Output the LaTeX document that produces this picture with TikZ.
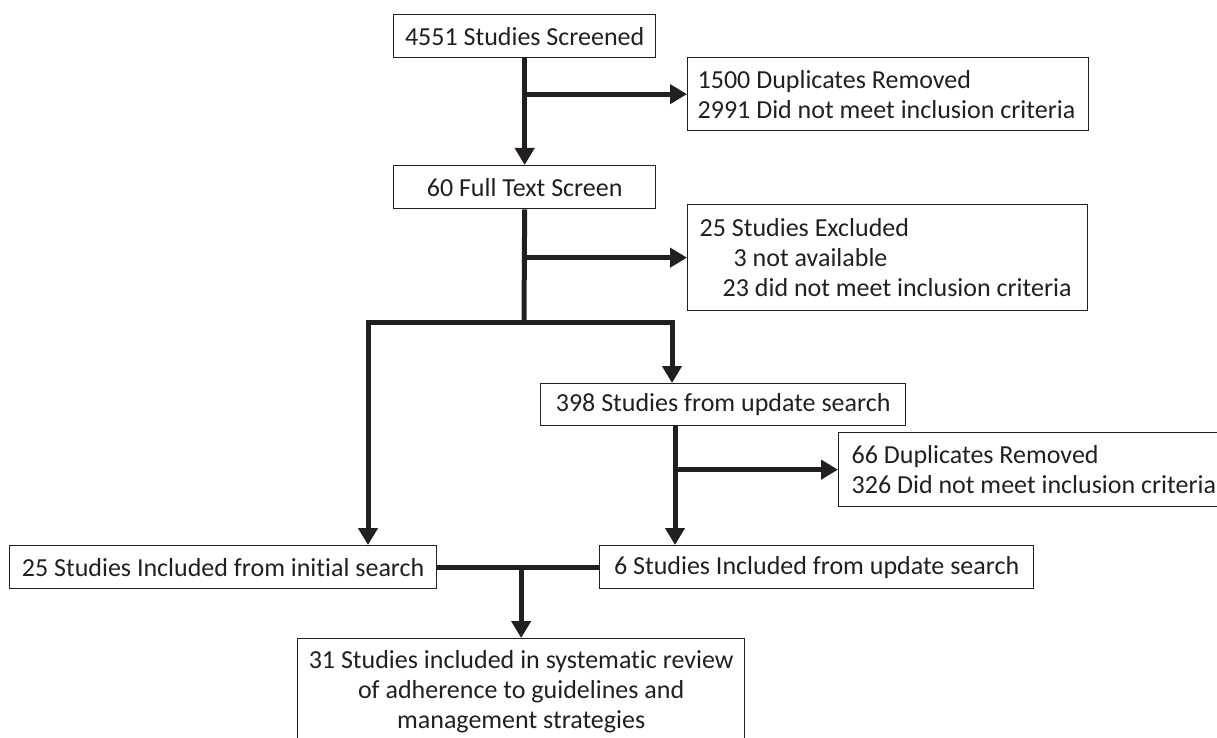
\documentclass[tikz,border=0pt]{standalone}
\usepackage{fontspec}
\setmainfont{Carlito}[Ligatures=NoCommon]
\usetikzlibrary{arrows.meta}
\definecolor{inkblack}{HTML}{231F20}

\begin{document}
\begin{tikzpicture}[x=1pt, y=-1pt,
    box/.style={draw=inkblack, line width=1.3pt, anchor=north west, inner sep=0pt, align=center, text=inkblack},
    listbox/.style={box, align=flush left, inner xsep=11pt},
    flow/.style={draw=inkblack, line width=5pt},
    arr/.style={flow, -{Triangle[length=17pt, width=19pt]}}]
    \useasboundingbox (0,0) rectangle (1217,738);
    \clip (0,0) rectangle (1217,738);
    \fontsize{26}{30}\selectfont

    % screening
    \node[box, minimum width=262pt, minimum height=43pt] (screen) at (393,14) {4551 Studies Screened};
    \node[listbox, inner xsep=10pt, text width=381pt, minimum height=73pt] (dup) at (687,57) {1500 Duplicates Removed\\2991 Did not meet inclusion criteria};
    \node[box, minimum width=262pt, minimum height=43pt] (full) at (393,165) {60 Full Text Screen};
    \node[listbox, inner xsep=12pt, text width=376pt, minimum height=106pt] (excl) at (687,204) {25 Studies Excluded\\\hspace*{34pt}3 not available\\\hspace*{23pt}23 did not meet inclusion criteria};

    % update search
    \node[box, minimum width=365pt, minimum height=42pt] (upd) at (540,383) {398 Studies from update search};
    \node[listbox, inner xsep=13pt, text width=400pt, minimum height=74pt] (upddup) at (838,432) {66 Duplicates Removed\\326 Did not meet inclusion criteria};

    % included
    \node[box, minimum width=427pt, minimum height=43pt] (initinc) at (9,545) {25 Studies Included from initial search};
    \node[box, minimum width=434pt, minimum height=43pt] (updinc) at (599,545) {6 Studies Included from update search};
    \node[box, minimum width=447pt, minimum height=106pt] (review) at (297,638) {31 Studies included in systematic review\\of adherence to guidelines and\\management strategies};

    % split points
    \coordinate (split) at (524,322);
    \coordinate (splitL) at (368,322);
    \coordinate (splitR) at (672,322);
    \coordinate (updout) at (675,425);

    % connectors
    \draw[arr] (screen.south) -- (full.north);
    \draw[arr] (screen.south |- dup.west) -- (dup.west);
    \draw[flow] (full.south) -- (split);
    \draw[arr] (full.south |- excl.west) -- (excl.west);
    \draw[flow, {Triangle[length=17pt, width=19pt]}-{Triangle[length=17pt, width=19pt]}] (splitL |- initinc.north) -- (splitL) -- (splitR) -- (splitR |- upd.north);
    \draw[arr] (updout) -- (updout |- updinc.north);
    \draw[arr] (updout |- upddup.west) -- (upddup.west);
    \draw[flow] (initinc.east) -- (updinc.west);
    \draw[arr] (review.north |- initinc.east) -- (review.north);
\end{tikzpicture}
\end{document}
